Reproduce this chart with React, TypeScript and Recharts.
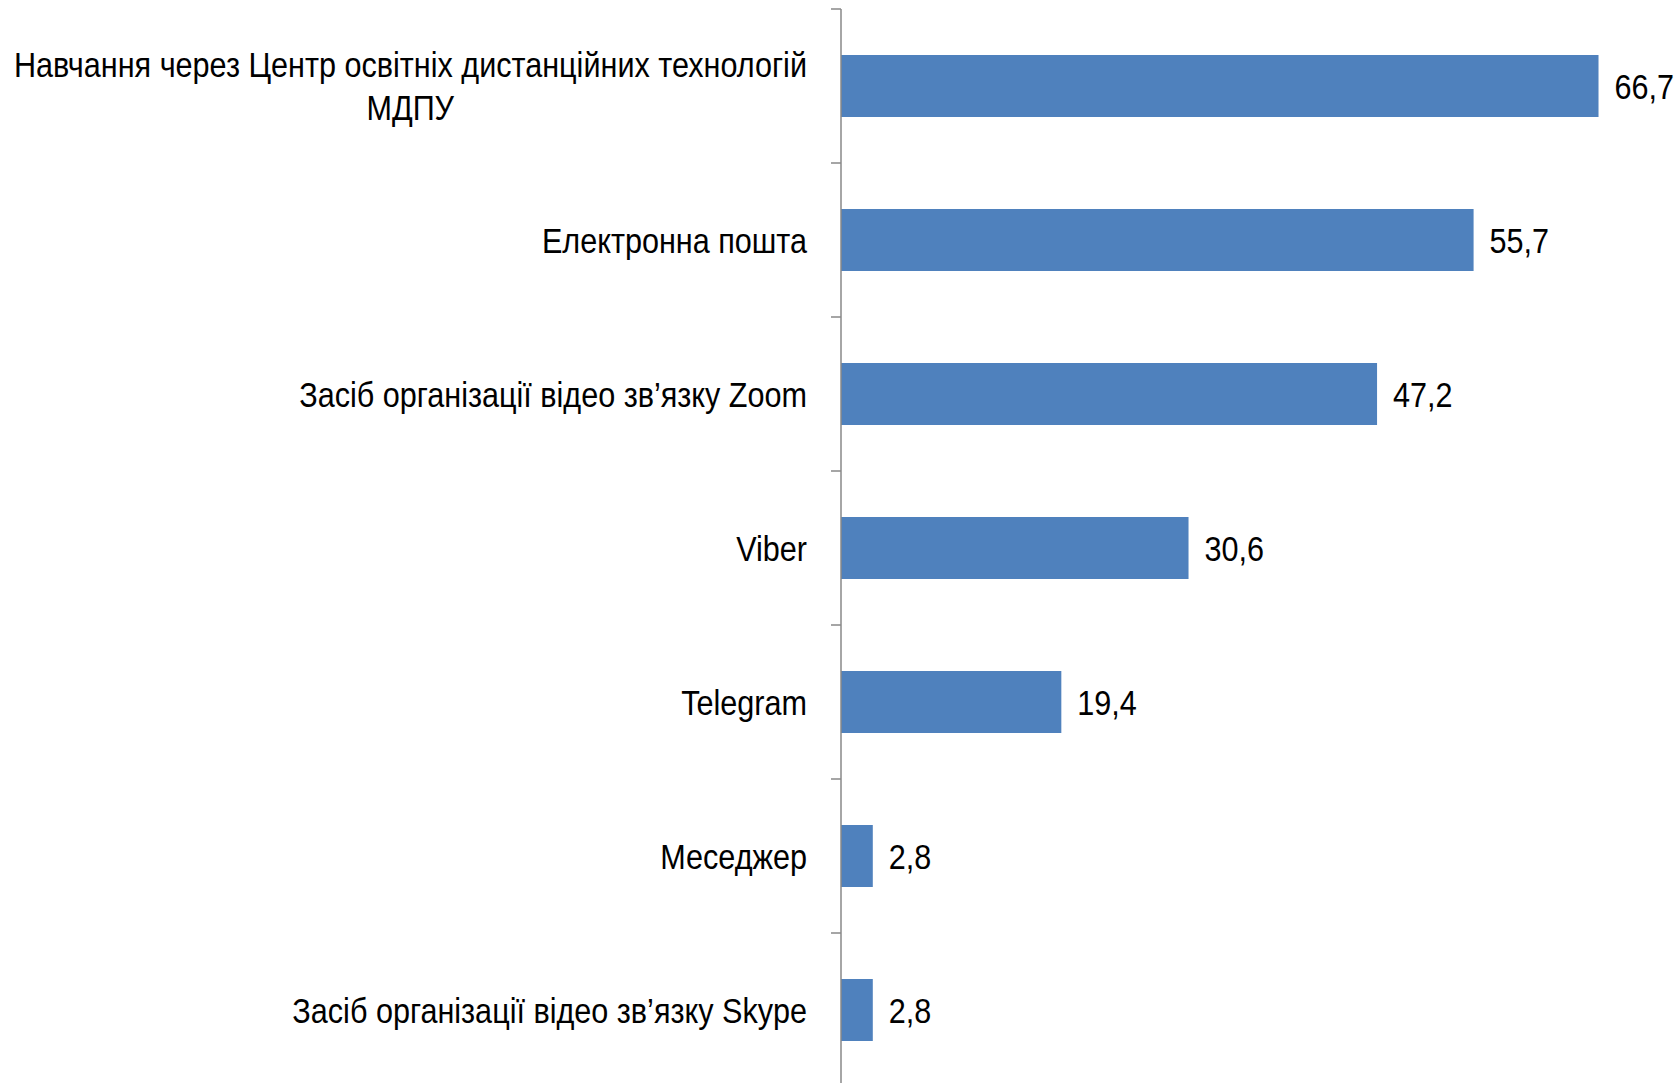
import React from "react";
import { BarChart, Bar, XAxis, YAxis, LabelList } from "recharts";

// відповіді, % респондентів
const categories = [
  "Навчання через Центр освітніх дистанційних технологій\nМДПУ",
  "Електронна пошта",
  "Засіб організації відео зв’язку Zoom",
  "Viber",
  "Telegram",
  "Меседжер",
  "Засіб організації відео зв’язку Skype",
];
const values = [66.7, 55.7, 47.2, 30.6, 19.4, 2.8, 2.8];

const data = categories.map((name, i) => ({ name, value: values[i] }));

const W = 1676;
const H = 1090;
const TOP = 9;
const BOTTOM = 3;
const AXIS_X = 841;
const BAND = (H - TOP - BOTTOM) / categories.length;
// no Arial Narrow here, so squeeze Liberation Sans horizontally
const FONT = "'Liberation Sans', Arial, sans-serif";
const FONT_SIZE = 36;
const NARROW = 0.85;
const LINE_H = 42.6;
const LABEL_RIGHT = AXIS_X - 34;

let ctx: CanvasRenderingContext2D | null = null;
const measure = (s: string) => {
  if (!ctx) ctx = document.createElement("canvas").getContext("2d");
  if (!ctx) return s.length * 18;
  ctx.font = `${FONT_SIZE}px ${FONT}`;
  return ctx.measureText(s).width * NARROW;
};

const NarrowText = ({ x, y, anchor, children }: any) => (
  <text
    transform={`translate(${x},${y}) scale(${NARROW},1)`}
    textAnchor={anchor}
    fontFamily={FONT}
    fontSize={FONT_SIZE}
    fill="#000"
  >
    {children}
  </text>
);

const CategoryTick = (props: any) => {
  const { y, payload } = props;
  const lines = String(payload.value).split("\n");
  const firstW = measure(lines[0]);
  const startBase = y + 12.5 - ((lines.length - 1) * LINE_H) / 2;
  return (
    <g>
      <line x1={AXIS_X - 10} x2={AXIS_X} y1={y - BAND / 2} y2={y - BAND / 2} stroke="#898989" strokeWidth={1.5} />
      {lines.map((ln, i) => (
        <NarrowText
          key={i}
          x={i === 0 ? LABEL_RIGHT : LABEL_RIGHT - firstW / 2}
          y={startBase + i * LINE_H}
          anchor={i === 0 ? "end" : "middle"}
        >
          {ln}
        </NarrowText>
      ))}
    </g>
  );
};

const ValueLabel = (props: any) => {
  const { x, y, width, height, value } = props;
  return (
    <NarrowText x={x + width + 16} y={y + height / 2 + 12.5} anchor="start">
      {Number(value).toFixed(1).replace(".", ",")}
    </NarrowText>
  );
};

export default function App() {
  return (
    <div style={{ position: "absolute", left: 0, top: 0, width: W, height: 1083, overflow: "hidden", background: "#fff" }}>
      <BarChart
        width={W}
        height={H}
        data={data}
        layout="vertical"
        margin={{ top: TOP, right: 40, bottom: BOTTOM, left: 0 }}
        barCategoryGap={0}
      >
        <XAxis type="number" domain={[0, 70]} hide />
        <YAxis
          type="category"
          dataKey="name"
          width={AXIS_X}
          axisLine={{ stroke: "#898989", strokeWidth: 1.5 }}
          tickLine={false}
          tickSize={0}
          tick={<CategoryTick />}
          interval={0}
        />
        <Bar dataKey="value" fill="#4F81BD" barSize={62} isAnimationActive={false}>
          <LabelList dataKey="value" content={<ValueLabel />} />
        </Bar>
      </BarChart>
    </div>
  );
}
